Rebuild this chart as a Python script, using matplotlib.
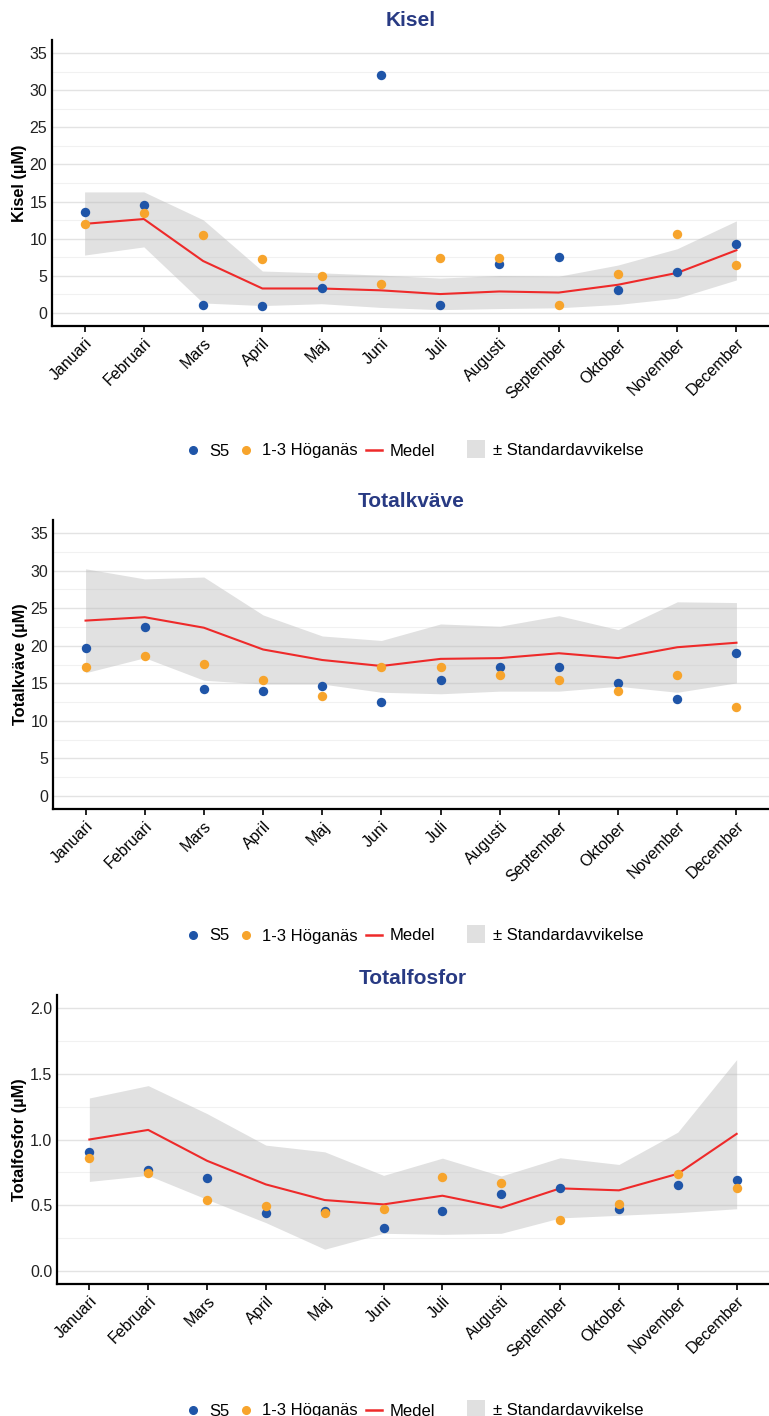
import matplotlib
matplotlib.use("Agg")
import matplotlib.pyplot as plt
import numpy as np
from matplotlib.lines import Line2D
from matplotlib.patches import Patch
from matplotlib.ticker import MultipleLocator

plt.rcParams['font.family'] = ['Liberation Sans', 'DejaVu Sans']

months = ["Januari", "Februari", "Mars", "April", "Maj", "Juni", "Juli",
          "Augusti", "September", "Oktober", "November", "December"]

# Kisel (µM)
kisel_s5 = [13.55, 14.6, 1.03, 1.0, 3.36, 32.0, 1.03, 6.55, 7.6, 3.05, 5.5, 9.25]
kisel_hog = [12.0, 13.5, 10.5, 7.3, 5.0, 3.95, 7.45, 7.45, 1.03, 5.25, 10.7, 6.4]
kisel_mean = [12.0, 12.65, 7.0, 3.3, 3.3, 3.05, 2.55, 2.9, 2.75, 3.8, 5.4, 8.45]
kisel_upper = [16.3, 16.3, 12.55, 5.65, 5.4, 5.1, 4.7, 5.05, 4.95, 6.45, 8.65, 12.4]
kisel_lower = [7.8, 8.9, 1.35, 1.0, 1.25, 0.75, 0.45, 0.6, 0.7, 1.15, 2.0, 4.45]

# Totalkväve (µM)
tn_s5 = [19.7, 22.55, 14.3, 13.95, 14.7, 12.55, 15.4, 17.2, 17.2, 15.05, 12.9, 19.0]
tn_hog = [17.2, 18.6, 17.55, 15.4, 13.25, 17.2, 17.2, 16.1, 15.4, 13.95, 16.1, 11.85]
tn_mean = [23.35, 23.8, 22.4, 19.5, 18.1, 17.3, 18.25, 18.35, 19.0, 18.35, 19.8, 20.4]
tn_upper = [30.25, 28.9, 29.15, 24.1, 21.3, 20.7, 22.9, 22.6, 24.0, 22.15, 25.85, 25.75]
tn_lower = [16.4, 18.4, 15.4, 14.9, 14.9, 13.8, 13.6, 13.95, 13.95, 14.6, 13.8, 15.05]

# Totalfosfor (µM)
tp_s5 = [0.904, 0.765, 0.709, 0.438, 0.453, 0.324, 0.458, 0.582, 0.630, 0.468, 0.653, 0.694]
tp_hog = [0.856, 0.742, 0.542, 0.494, 0.438, 0.468, 0.711, 0.671, 0.390, 0.511, 0.739, 0.630]
tp_mean = [1.0, 1.073, 0.838, 0.658, 0.539, 0.506, 0.572, 0.481, 0.628, 0.613, 0.739, 1.043]
tp_upper = [1.316, 1.41, 1.197, 0.957, 0.906, 0.727, 0.858, 0.722, 0.861, 0.810, 1.056, 1.608]
tp_lower = [0.681, 0.727, 0.544, 0.367, 0.165, 0.286, 0.278, 0.286, 0.403, 0.423, 0.443, 0.473]

C_S5 = "#1f55a8"
C_HOG = "#f7a42c"
C_MEAN = "#ee2a2a"
C_BAND = "#bdbdbd"
C_TITLE = "#283a83"

W, H = 769, 1416
fig = plt.figure(figsize=(W / 100, H / 100), dpi=100)


def panel(rect, title, ylabel, s5, hog, mean, upper, lower, ymax, major, minor,
          fmt, title_y, legend_y):
    ax = fig.add_axes(rect)
    x = np.arange(len(months))
    ax.fill_between(x, lower, upper, color=C_BAND, alpha=0.45, lw=0, zorder=2)
    ax.plot(x, mean, color=C_MEAN, lw=1.5, zorder=3)
    ax.scatter(x, s5, s=46, color=C_S5, zorder=4, lw=0)
    ax.scatter(x, hog, s=46, color=C_HOG, zorder=4, lw=0)

    pad = ymax * 0.05
    ax.set_ylim(-pad, ymax + pad)
    ax.set_xlim(-0.55, len(months) - 0.45)
    ax.yaxis.set_major_locator(MultipleLocator(major))
    ax.yaxis.set_minor_locator(MultipleLocator(minor))
    ax.yaxis.set_major_formatter(plt.FuncFormatter(lambda v, p: fmt.format(v)))
    ax.grid(axis='y', which='major', color='#e3e3e3', lw=1.0, zorder=1)
    ax.grid(axis='y', which='minor', color='#f1f1f1', lw=0.8, zorder=1)
    ax.set_axisbelow(True)

    ax.set_xticks(x)
    ax.set_xticklabels(months, rotation=45, ha='right', rotation_mode='anchor',
                       fontsize=11.5, color='black')
    ax.tick_params(axis='x', length=4, width=1.2, color='black', pad=3)
    ax.tick_params(axis='y', which='both', length=0, pad=3.5, labelsize=11.5,
                   labelcolor='#222222')
    for side in ('top', 'right'):
        ax.spines[side].set_visible(False)
    for side in ('left', 'bottom'):
        ax.spines[side].set_linewidth(1.6)
        ax.spines[side].set_color('black')
    ax.set_ylabel(ylabel, fontsize=11.8, fontweight='bold', labelpad=2)

    cx = rect[0] + rect[2] / 2
    fig.text(cx, 1 - title_y / H, title, ha='center', va='center',
             fontsize=15, fontweight='bold', color=C_TITLE)

    ly = 1 - legend_y / H
    series_handles = [
        Line2D([], [], ls='none', marker='o', ms=5.5, color=C_S5, label='S5'),
        Line2D([], [], ls='none', marker='o', ms=5.5, color=C_HOG, label='1-3 Höganäs'),
        Line2D([], [], color=C_MEAN, lw=1.8, label='Medel'),
    ]
    fig.legend(handles=series_handles, loc='center', ncol=3, frameon=False,
               bbox_to_anchor=(310 / W, ly - 2 / H), fontsize=12,
               handlelength=1.0, handletextpad=0.45, columnspacing=0.5,
               borderaxespad=0, borderpad=0)
    band_handle = [Patch(facecolor='#e0e0e0', edgecolor='none',
                         label='± Standardavvikelse')]
    fig.legend(handles=band_handle, loc='center', frameon=False,
               bbox_to_anchor=(555 / W, ly), fontsize=12,
               handlelength=1.1, handleheight=1.3, handletextpad=0.45,
               borderaxespad=0, borderpad=0)
    return ax


panel([52 / W, 1 - 326 / H, 1 - 52 / W, (326 - 40) / H], "Kisel", "Kisel (µM)",
      kisel_s5, kisel_hog, kisel_mean, kisel_upper, kisel_lower,
      35, 5, 2.5, "{:.0f}", 21, 449)
panel([53 / W, 1 - 809 / H, 1 - 53 / W, (809 - 520) / H], "Totalkväve",
      "Totalkväve (µM)", tn_s5, tn_hog, tn_mean, tn_upper, tn_lower,
      35, 5, 2.5, "{:.0f}", 501, 934)
panel([57 / W, 1 - 1284 / H, 1 - 57 / W, (1284 - 995) / H], "Totalfosfor",
      "Totalfosfor (µM)", tp_s5, tp_hog, tp_mean, tp_upper, tp_lower,
      2.0, 0.5, 0.25, "{:.1f}", 978, 1409)

fig.savefig("out.png", dpi=100, facecolor='white')
